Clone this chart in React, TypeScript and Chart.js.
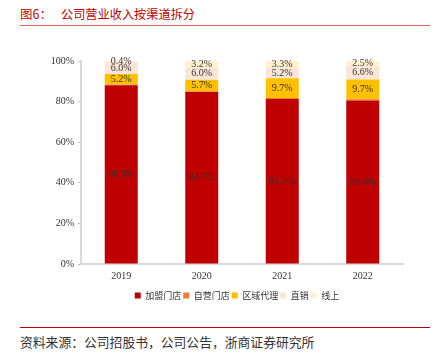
import React, { useEffect, useRef } from "react";
import { Chart, registerables } from "chart.js";

Chart.register(...registerables);

const categories = ["2019", "2020", "2021", "2022"];
const franchise = [88.0, 84.7, 81.3, 80.6];
const selfOwned = [0.4, 0.4, 0.5, 0.6];
const regional = [5.2, 5.7, 9.7, 9.7];
const direct = [6.0, 6.0, 5.2, 6.6];
const online = [0.4, 3.2, 3.3, 2.5];
const yTicks = [0, 20, 40, 60, 80, 100];

const seriesNames = ["加盟门店", "自营门店", "区域代理", "直销", "线上"];
const seriesColors = ["#C00000", "#ED7D31", "#FFC000", "#FBE5D6", "#FFF2CC"];
const showLabel = [true, false, true, true, true];

const labelPlugin = {
  id: "barLabels",
  afterLayout(chart: any) {
    // centre the legend under the plot like the reference
    if (chart.legend) {
      chart.legend.left = 71;
    }
  },
  afterDatasetsDraw(chart: any) {
    const ctx = chart.ctx;
    ctx.save();
    ctx.font = "10px 'Liberation Serif', serif";
    ctx.fillStyle = "#333333";
    ctx.textAlign = "center";
    ctx.textBaseline = "middle";
    chart.data.datasets.forEach((ds: any, i: number) => {
      if (!showLabel[i]) return;
      const meta = chart.getDatasetMeta(i);
      meta.data.forEach((bar: any, j: number) => {
        const v = ds.data[j];
        const y = (bar.y + bar.base) / 2;
        ctx.fillText(v.toFixed(1) + "%", bar.x, y);
      });
    });
    ctx.restore();
  },
};

export default function App() {
  const ref = useRef<HTMLCanvasElement>(null);
  useEffect(() => {
    document.body.style.margin = "0";
    const data = [franchise, selfOwned, regional, direct, online];
    const chart = new Chart(ref.current!, {
      type: "bar",
      data: {
        labels: categories,
        datasets: data.map((d, i) => ({
          label: seriesNames[i],
          data: d,
          backgroundColor: seriesColors[i],
          borderWidth: 0,
          barPercentage: 0.41,
          categoryPercentage: 1,
        })),
      },
      options: {
        animation: false,
        responsive: false,
        maintainAspectRatio: false,
        layout: { padding: { left: 0, right: 33, top: 21, bottom: 0 } },
        plugins: {
          legend: {
            position: "bottom",
            labels: {
              boxWidth: 6,
              boxHeight: 6,
              padding: 2,
              color: "#333333",
              font: { size: 9, family: "'Noto Sans CJK SC', sans-serif" },
            },
          },
          tooltip: { enabled: false },
        },
        scales: {
          x: {
            stacked: true,
            afterFit: (s: any) => {
              s.height = 25;
            },
            grid: { display: false, drawTicks: false },
            border: { color: "#D9D9D9", width: 2 },
            ticks: {
              color: "#333333",
              padding: 6,
              font: { size: 10, family: "'Liberation Serif', serif" },
            },
          },
          y: {
            stacked: true,
            min: 0,
            max: 100,
            afterBuildTicks: (s: any) => {
              s.ticks = yTicks.map((v) => ({ value: v }));
            },
            afterFit: (s: any) => {
              s.width = 81;
            },
            grid: {
              drawOnChartArea: false,
              drawTicks: true,
              tickLength: 3,
              color: "#BFBFBF",
            },
            border: { color: "#D9D9D9", width: 2 },
            ticks: {
              color: "#333333",
              padding: 4,
              font: { size: 10, family: "'Liberation Serif', serif" },
              callback: (v: any) => v + "%",
            },
          },
        },
      },
      plugins: [labelPlugin],
    });
    return () => chart.destroy();
  }, []);

  return (
    <div style={{ position: "relative", width: 436, height: 359, background: "#fff", overflow: "hidden" }}>
      <div
        style={{
          position: "absolute",
          left: 20,
          top: 5,
          fontFamily: "'Noto Sans CJK SC', sans-serif",
          fontSize: 12.5,
          color: "#C00000",
          whiteSpace: "pre",
          lineHeight: "18px",
        }}
      >
        {"图6："}
      </div>
      <div
        style={{
          position: "absolute",
          left: 61,
          top: 5,
          fontFamily: "'Noto Sans CJK SC', sans-serif",
          fontSize: 12.2,
          color: "#C00000",
          whiteSpace: "pre",
          lineHeight: "18px",
        }}
      >
        {"公司营业收入按渠道拆分"}
      </div>
      <div style={{ position: "absolute", left: 20, top: 25, width: 410, height: 1, background: "#E06666" }} />
      <canvas ref={ref} width={436} height={270} style={{ position: "absolute", left: 0, top: 40 }} />
      <div style={{ position: "absolute", left: 20, top: 327, width: 410, height: 1, background: "#C00000" }} />
      <div
        style={{
          position: "absolute",
          left: 20,
          top: 334,
          fontFamily: "'Noto Sans CJK SC', sans-serif",
          fontSize: 12.8,
          color: "#333333",
          whiteSpace: "pre",
          lineHeight: "16px",
        }}
      >
        {"资料来源：公司招股书，公司公告，浙商证券研究所"}
      </div>
    </div>
  );
}
